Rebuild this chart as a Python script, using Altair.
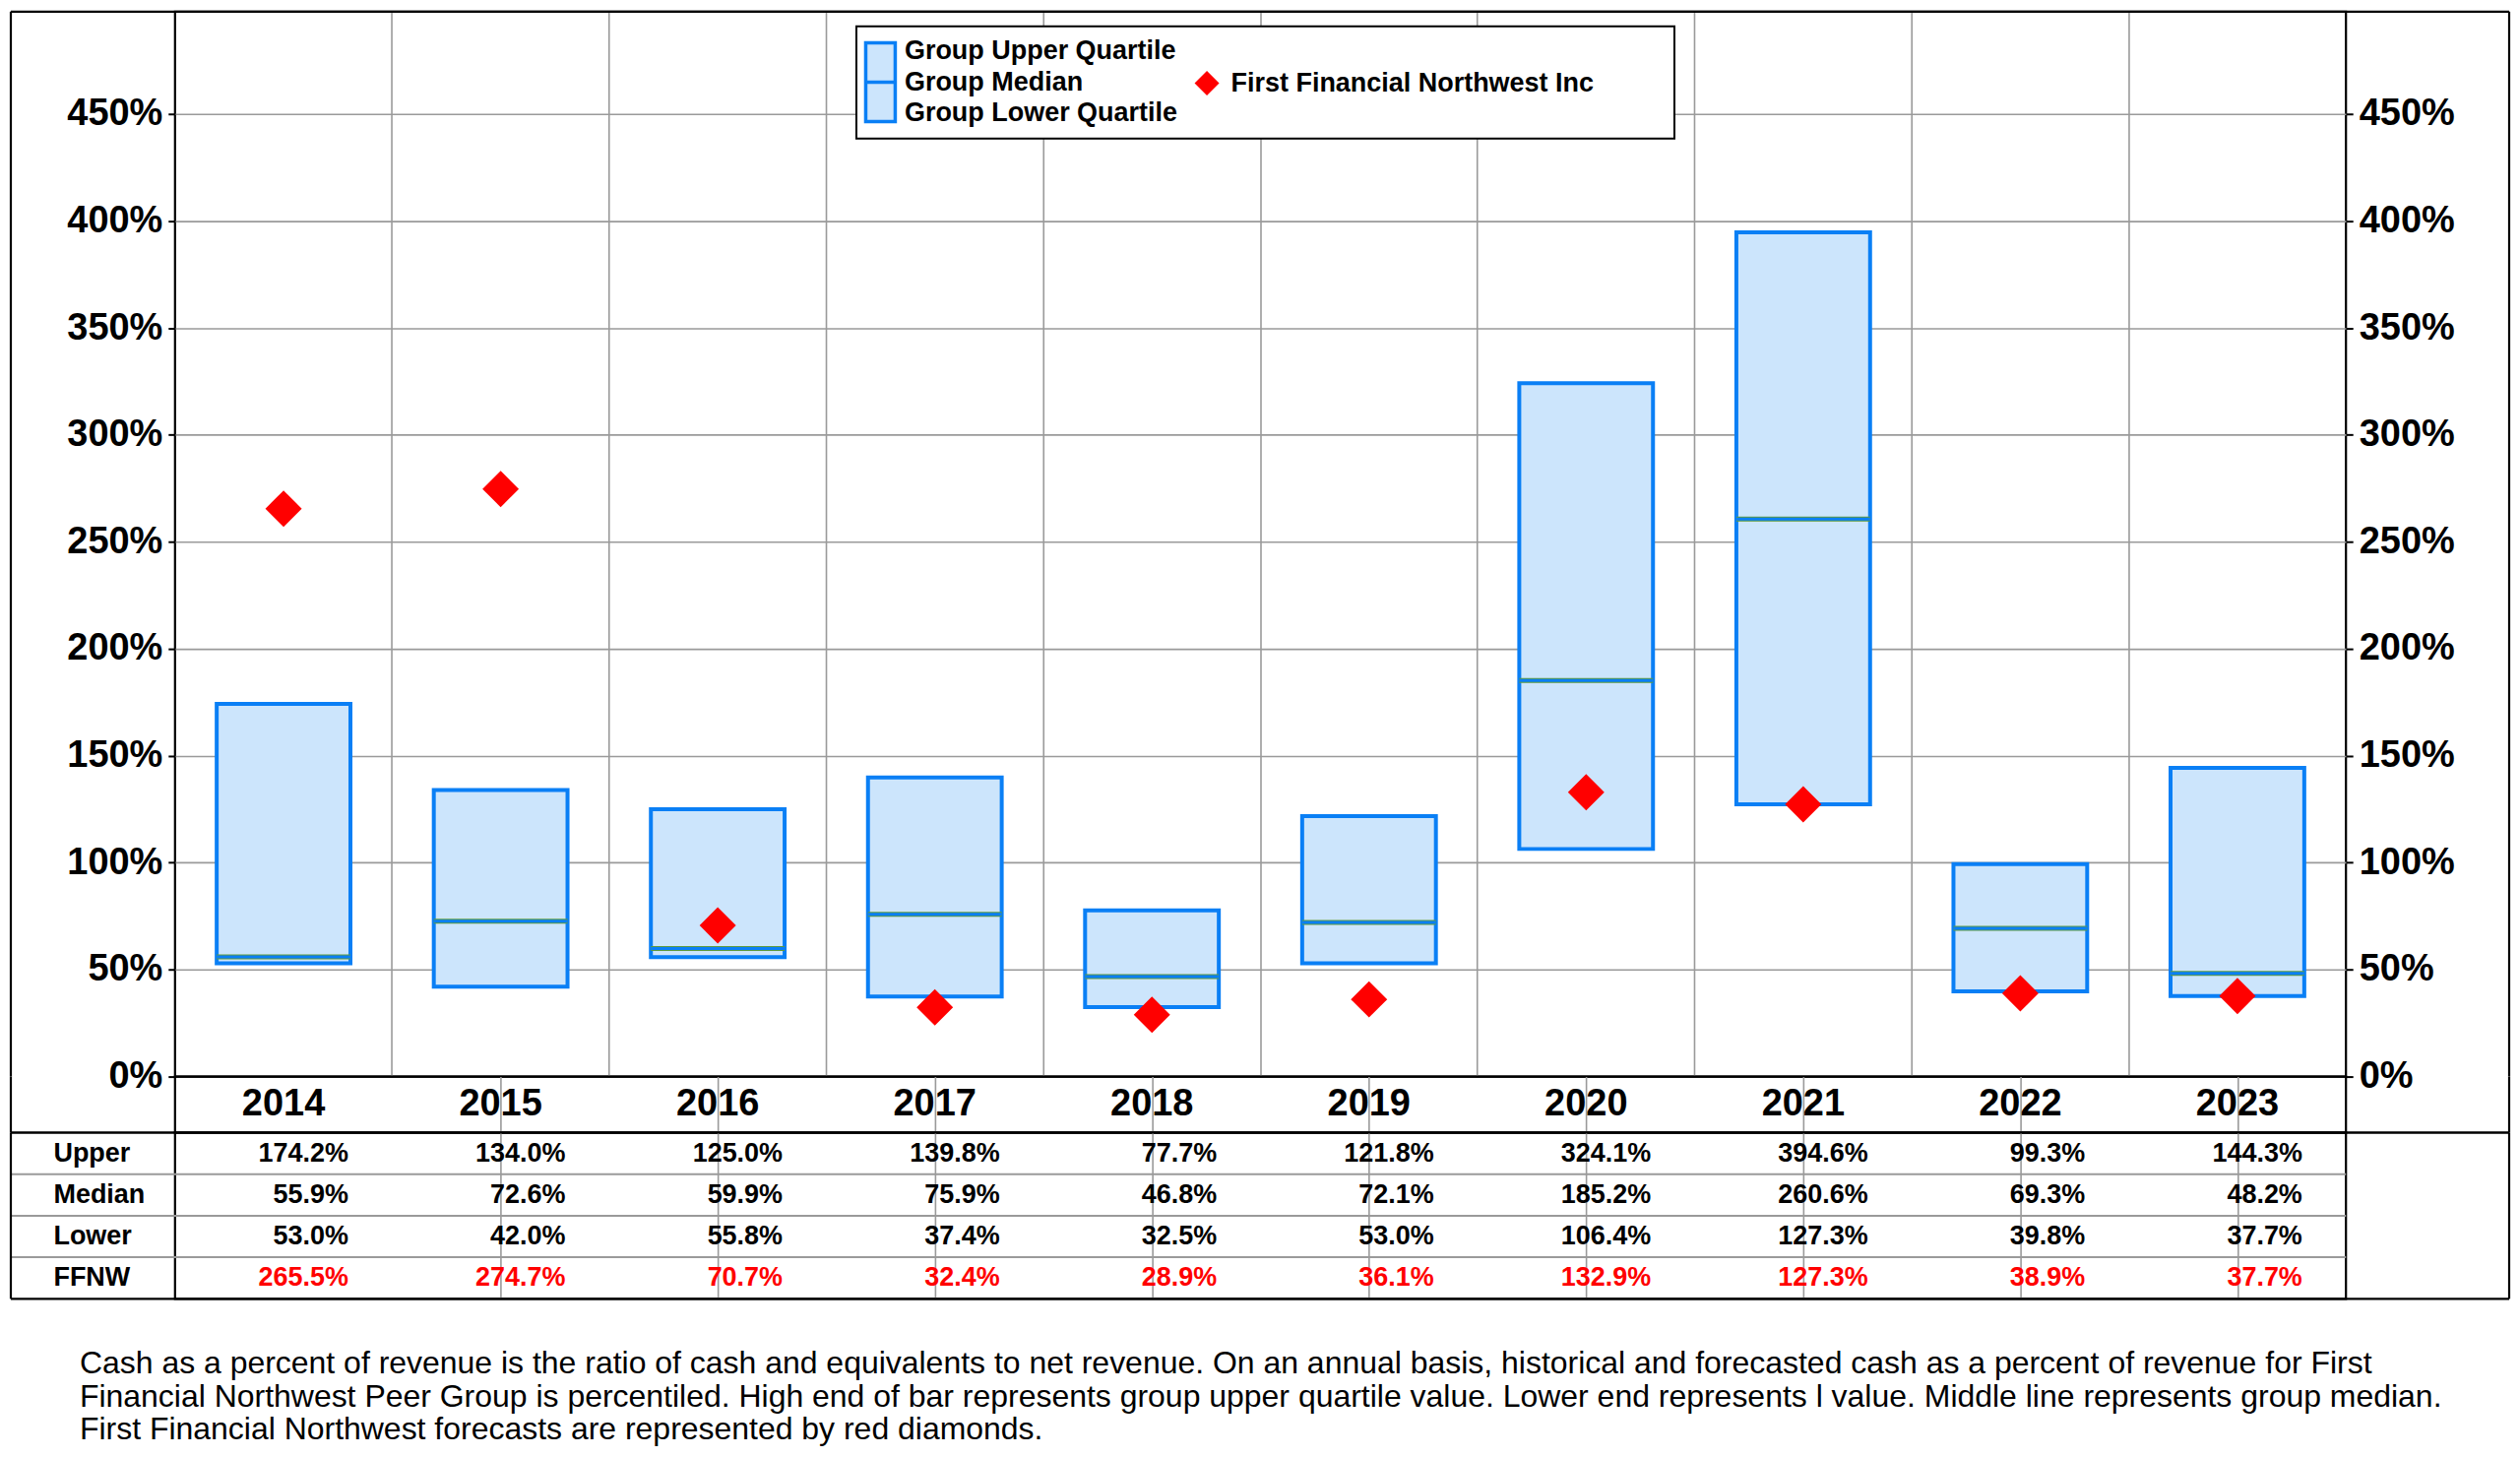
import altair as alt
import pandas as pd

# ---------------- data ----------------
years = ["2014", "2015", "2016", "2017", "2018", "2019", "2020", "2021", "2022", "2023"]
upper = [174.2, 134.0, 125.0, 139.8, 77.7, 121.8, 324.1, 394.6, 99.3, 144.3]
median = [55.9, 72.6, 59.9, 75.9, 46.8, 72.1, 185.2, 260.6, 69.3, 48.2]
lower = [53.0, 42.0, 55.8, 37.4, 32.5, 53.0, 106.4, 127.3, 39.8, 37.7]
ffnw = [265.5, 274.7, 70.7, 32.4, 28.9, 36.1, 132.9, 127.3, 38.9, 37.7]

row_names = ["Upper", "Median", "Lower", "FFNW"]
y_ticks = [0, 50, 100, 150, 200, 250, 300, 350, 400, 450]
series_names = ["Group", "First Financial Northwest Inc", "pad"]
group_lines = ["Group Upper Quartile", "Group Median", "Group Lower Quartile"]
footnote_lines = [
    "Cash as a percent of revenue is the ratio of cash and equivalents to net revenue.  On an annual basis, historical and forecasted cash as a percent of revenue for First",
    "Financial Northwest Peer Group is percentiled.  High end of bar represents group upper quartile value.  Lower end represents l value.  Middle line represents group median.",
    "First Financial Northwest forecasts are represented by red diamonds.",
]

# ---------------- layout / style ----------------
W = 2208
H_MAIN = 1083
H_YEAR = 57
H_TABLE = 169
LEFT = -167
RIGHT = W + 166
FONT = "Liberation Sans"
GRID = "#9a9a9a"
FILL = "#cce5fc"
BLUE = "#0a7ff5"
GREEN = "#5e9a3e"
RED = "#ff0000"
FRAME_W = 2.2
# legend glyphs (unit = half of sqrt(symbolSize)); centred one text line lower
LEG_BOX = "M-1.2,-0.64L1.2,-0.64L1.2,5.76L-1.2,5.76Z M-1.2,2.56L1.2,2.56"
LEG_DIAMOND = "M0,1.56L1,2.56L0,3.56L-1,2.56Z"
LEG_SPACER = "M-1,2.56L2.76,2.56"   # invisible, only widens the legend box

df = pd.DataFrame({
    "year": years, "upper": upper, "median": median, "lower": lower, "ffnw": ffnw,
    "series": ["First Financial Northwest Inc"] * len(years),
})

table_rows = []
for name, vals in zip(row_names, [upper, median, lower, ffnw]):
    for yr, v in zip(years, vals):
        table_rows.append({"row": name, "year": yr, "label": f"{v:.1f}%"})
tdf = pd.DataFrame(table_rows)

one = alt.Data(values=[{"k": 1}])


def x_enc():
    return alt.X(
        "year:N", sort=years,
        scale=alt.Scale(paddingInner=0, paddingOuter=0),
        axis=alt.Axis(
            title=None, labels=False, ticks=False, domain=False, grid=True,
            bandPosition=0, gridColor=GRID, gridWidth=1.6,
            gridOpacity=alt.condition(alt.datum.value == "2014", alt.value(0), alt.value(1)),
        ),
    )


def vrule(xv, h, color="black", width=FRAME_W):
    return alt.Chart(one).mark_rule(color=color, strokeWidth=width).encode(
        x=alt.value(xv), y=alt.value(0), y2=alt.value(h))


def hrule(yv, x1, x2, color="black", width=FRAME_W):
    return alt.Chart(one).mark_rule(color=color, strokeWidth=width).encode(
        x=alt.value(x1), x2=alt.value(x2), y=alt.value(yv))


y_scale = alt.Scale(domain=[0, 497.8], nice=False, zero=False)
axis_common = dict(
    title=None, values=y_ticks, labelExpr="datum.value + '%'",
    labelFont=FONT, labelFontSize=38, labelFontWeight="bold", labelColor="black",
    tickSize=7, tickWidth=2, tickColor="black", labelPadding=6, domain=False,
)

# ---------------- main plot ----------------
boxes = alt.Chart(df).mark_bar(
    width=alt.RelativeBandSize(0.616), fill=FILL, stroke=BLUE, strokeWidth=4
).encode(
    x=x_enc(),
    y=alt.Y("lower:Q", scale=y_scale, axis=alt.Axis(
        orient="left", grid=True, gridColor=GRID, gridWidth=1.6,
        gridOpacity=alt.condition(alt.datum.value == 0, alt.value(0), alt.value(1)),
        **axis_common)),
    y2="upper:Q",
)
med_green = alt.Chart(df).mark_tick(size=136, thickness=5, color=GREEN, opacity=1).encode(
    x=x_enc(), y=alt.Y("median:Q", scale=y_scale))
med_blue = alt.Chart(df).mark_tick(size=136, thickness=3, color=BLUE, opacity=1).encode(
    x=x_enc(), y=alt.Y("median:Q", scale=y_scale))

leg = alt.Legend(
    title=None, orient="none", legendX=693, legendY=15, direction="horizontal", columns=3,
    fillColor="white", strokeColor="black", padding=10, symbolSize=625, symbolStrokeWidth=3.5,
    symbolOpacity=1,
    labelFont=FONT, labelFontSize=27, labelFontWeight="bold", labelColor="black",
    labelLimit=800, labelOffset=10, columnPadding=10,
    labelExpr="datum.label == 'Group' ? ['" + "', '".join(group_lines)
              + "'] : datum.label == 'pad' ? '' : ['', datum.label, '']",
)
# invisible marks that only carry the legend
legend_carrier = alt.Chart(df).mark_point(filled=True, opacity=0).encode(
    x=x_enc(), y=alt.Y("median:Q", scale=y_scale),
    shape=alt.Shape("series:N", scale=alt.Scale(domain=series_names, range=[LEG_BOX, LEG_DIAMOND, LEG_SPACER]), legend=leg),
    fill=alt.Fill("series:N", scale=alt.Scale(domain=series_names, range=[FILL, RED, "transparent"]), legend=leg),
    stroke=alt.Stroke("series:N", scale=alt.Scale(domain=series_names, range=[BLUE, "transparent", "transparent"]), legend=leg),
)
left_layer = alt.layer(boxes, med_green, med_blue, legend_carrier)

diamonds = alt.Chart(df).mark_point(
    shape="diamond", filled=True, color=RED, size=1369, opacity=1, strokeWidth=0
).encode(
    x=x_enc(),
    y=alt.Y("ffnw:Q", scale=y_scale, axis=alt.Axis(orient="right", grid=False, **axis_common)),
)

main = alt.layer(
    left_layer, diamonds,
    hrule(0, LEFT, RIGHT), vrule(LEFT, H_MAIN), vrule(RIGHT, H_MAIN),
).resolve_scale(y="independent").properties(
    width=W, height=H_MAIN, view=alt.ViewBackground(stroke="black", strokeWidth=FRAME_W))

# ---------------- year row ----------------
year_text = alt.Chart(df).mark_text(
    font=FONT, fontSize=38, fontWeight="bold", color="black", baseline="middle"
).encode(x=x_enc(), text="year:N")
year_chart = alt.layer(
    year_text, vrule(LEFT, H_YEAR), vrule(RIGHT, H_YEAR), hrule(H_YEAR, LEFT, RIGHT),
).properties(width=W, height=H_YEAR, view=alt.ViewBackground(stroke="black", strokeWidth=FRAME_W))

# ---------------- table ----------------
row_enc_axis = alt.Y(
    "row:N", sort=row_names, scale=alt.Scale(paddingInner=0, paddingOuter=0),
    axis=alt.Axis(title=None, orient="left", ticks=False, tickSize=0, domain=False, grid=False,
                  labelAlign="left", labelPadding=124, labelFont=FONT, labelFontSize=27,
                  labelFontWeight="bold", labelColor="black", labelBaseline="middle"),
)
row_sep = alt.Chart(pd.DataFrame({"row": row_names[1:]})).mark_rule(color=GRID, strokeWidth=2).encode(
    y=alt.Y("row:N", sort=row_names, bandPosition=0),
    x=alt.value(LEFT), x2=alt.value(W),
)
values_text = alt.Chart(tdf).mark_text(
    font=FONT, fontSize=27, fontWeight="bold", align="right", baseline="middle", dx=66
).encode(
    x=x_enc(), y=row_enc_axis, text="label:N",
    color=alt.condition(alt.datum.row == "FFNW", alt.value(RED), alt.value("black")),
)
table_chart = alt.layer(
    row_sep, values_text,
    vrule(LEFT, H_TABLE), vrule(RIGHT, H_TABLE),
    hrule(0, LEFT, RIGHT), hrule(H_TABLE, LEFT, RIGHT),
).properties(
    width=W, height=H_TABLE, view=alt.ViewBackground(stroke="black", strokeWidth=FRAME_W),
    title=alt.TitleParams(
        text=footnote_lines, orient="bottom", anchor="start", frame="group", dx=-97, offset=50,
        font=FONT, fontSize=32, fontWeight="normal", color="black", lineHeight=33.5,
    ),
)

chart = alt.vconcat(main, year_chart, table_chart, spacing=0, bounds="flush").properties(
    padding=0
).configure(
    style={"guide-label": {"lineHeight": 32}}
).configure_legend(strokeWidth=2)

chart.save("out.html", embed_options={"renderer": "svg", "actions": False})
